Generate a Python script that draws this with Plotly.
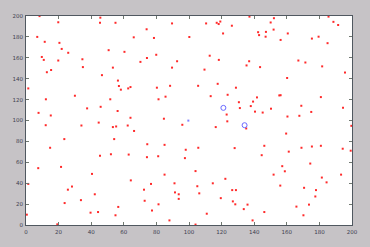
import plotly.graph_objects as go

# red points (x, y)
red_x = [8.3, 19.8, 45.6, 45.4, 54.9, 74.0, 89.6, 6.9, 11.5, 20.5, 21.9, 25.9, 50.7, 60.4, 66.1, 78.5,
         9.7, 10.9, 19.8, 34.6, 34.9, 12.8, 15.4, 46.6, 53.3, 70.2, 74.2, 79.9, 92.7, 89.6, 56.4, 57.0,
         58.2, 62.7, 64.1, 80.3, 88.4, 1.4, 12.2, 30.0, 51.7, 81.3, 85.6, 7.7, 15.2, 37.5, 45.8, 56.2,
         64.1, 84.6,
         137.1, 152.1, 185.6, 188.6, 191.5, 110.5, 117.0, 118.2, 119.2, 126.3, 150.1, 151.9, 120.9, 142.4,
         147.2, 143.0, 147.0, 156.2, 160.6, 100.2, 175.4, 179.5, 185.0, 112.7, 118.3, 136.9, 135.3, 143.6,
         167.1, 171.4, 181.7, 195.7, 109.5, 160.2, 105.6, 117.6, 128.8, 113.3, 123.7, 141.7, 155.4, 156.2,
         180.9, 130.6, 139.3, 131.2, 137.9, 140.5, 145.2, 150.3, 168.9, 175.0, 194.5, 123.1, 160.4, 167.7,
         12.1, 34.0, 44.6, 53.3, 55.3, 62.4, 66.3, 95.9, 23.5, 14.8, 54.1, 74.4, 85.0, 98.0, 45.4, 52.1,
         63.0, 74.2, 81.1, 97.5, 7.5, 21.5, 40.5, 85.0, 1.4, 64.3, 76.7, 91.1, 25.7, 28.2, 72.4, 91.4,
         93.7, 42.2, 33.7, 72.8, 93.7, 23.7, 81.3, 56.6, 39.6, 44.2, 77.3, 54.9, 88.0, 19.2, 0.5,
         123.5, 116.4, 135.1, 159.6, 199.6, 105.7, 128.0, 146.2, 161.2, 169.0, 175.4, 180.9, 194.3, 199.2,
         144.6, 104.0, 157.2, 158.8, 174.4, 151.9, 181.5, 193.3, 122.3, 114.6, 184.4, 105.1, 156.0, 170.6,
         177.9, 126.5, 128.8, 106.3, 119.5, 177.5, 126.9, 128.4, 135.9, 165.9, 173.6, 133.6, 110.9, 146.2,
         170.2, 139.0, 104.0]
red_y = [199.9, 194.0, 198.4, 193.5, 193.5, 187.3, 192.9, 180.0, 175.3, 174.3, 168.5, 164.8, 167.3, 165.7,
         179.6, 179.0, 160.8, 158.0, 157.4, 158.6, 151.1, 146.2, 148.3, 143.4, 150.6, 156.1, 159.8, 162.9,
         156.7, 150.6, 138.2, 133.0, 129.5, 130.7, 132.0, 131.4, 133.2, 130.7, 120.3, 123.7, 120.3, 120.3,
         122.8, 107.3, 104.8, 111.6, 113.1, 109.1, 102.6, 101.7,
         199.4, 197.9, 199.4, 194.4, 191.4, 192.9, 193.5, 192.3, 194.7, 190.7, 193.8, 187.0, 183.3, 184.5,
         184.8, 181.7, 180.2, 177.1, 183.3, 179.9, 178.4, 180.2, 174.0, 162.0, 158.0, 156.7, 152.7, 151.1,
         157.4, 155.5, 151.8, 145.9, 148.7, 140.7, 133.2, 135.1, 131.4, 123.3, 124.6, 122.1, 124.0, 124.2,
         122.4, 117.5, 118.1, 111.9, 113.8, 108.5, 107.6, 111.3, 114.1, 108.2, 112.2, 105.7, 103.8, 104.5,
         95.5, 95.2, 98.0, 93.7, 94.3, 95.2, 90.0, 95.9, 82.2, 73.9, 82.2, 77.3, 76.7, 72.0, 66.2, 67.7,
         67.4, 64.9, 65.8, 64.0, 54.4, 55.6, 48.9, 48.2, 39.3, 42.7, 39.3, 39.9, 33.8, 36.8, 33.8, 31.2,
         29.4, 29.4, 23.8, 23.2, 25.0, 21.0, 19.8, 17.3, 11.8, 12.4, 13.9, 9.3, 4.4, 0.6, 9.9,
         99.2, 93.7, 92.4, 87.5, 94.9, 73.9, 73.6, 75.8, 70.2, 73.9, 75.1, 75.8, 73.0, 71.1,
         66.8, 51.6, 56.3, 51.4, 58.8, 48.2, 45.4, 48.2, 44.2, 39.9, 40.8, 37.1, 37.7, 35.6,
         33.4, 33.4, 33.4, 30.3, 25.7, 27.3, 22.6, 19.8, 19.5, 17.6, 19.5, 15.2, 10.8, 12.4,
         9.3, 4.4, 0.4]

# blue markers
circle_x = [121.1, 134.1]
circle_y = [112.1, 95.5]
dot_x = [99.6]
dot_y = [99.9]

ticks = list(range(0, 201, 20))

fig = go.Figure()
fig.add_trace(go.Scatter(x=red_x, y=red_y, mode="markers",
                         marker=dict(symbol="square", size=2, color="#ff2a2a", line=dict(width=0)),
                         cliponaxis=False, hoverinfo="skip"))
fig.add_trace(go.Scatter(x=circle_x, y=circle_y, mode="markers",
                         marker=dict(symbol="circle-open", size=5, color="#6a6aff", line=dict(width=1)),
                         hoverinfo="skip"))
fig.add_trace(go.Scatter(x=dot_x, y=dot_y, mode="markers",
                         marker=dict(symbol="square", size=2, color="#8080ff", line=dict(width=0)),
                         hoverinfo="skip"))

axis_common = dict(range=[0, 200], tickvals=ticks, ticktext=[str(t) for t in ticks],
                   showgrid=False, zeroline=False, showline=True, linecolor="#505860",
                   linewidth=1, mirror="ticks", ticks="inside", ticklen=3, tickcolor="#707870",
                   tickfont=dict(family="DejaVu Sans", size=5.5, color="#404050"))
fig.update_xaxes(**axis_common, ticklabelstandoff=1)
fig.update_yaxes(**axis_common, ticklabelstandoff=1)

fig.update_layout(width=370, height=247, margin=dict(l=17, r=15, t=16, b=15),
                  paper_bgcolor="#c6c3c6", plot_bgcolor="#ffffff", showlegend=False)

fig.write_html("out.html")
